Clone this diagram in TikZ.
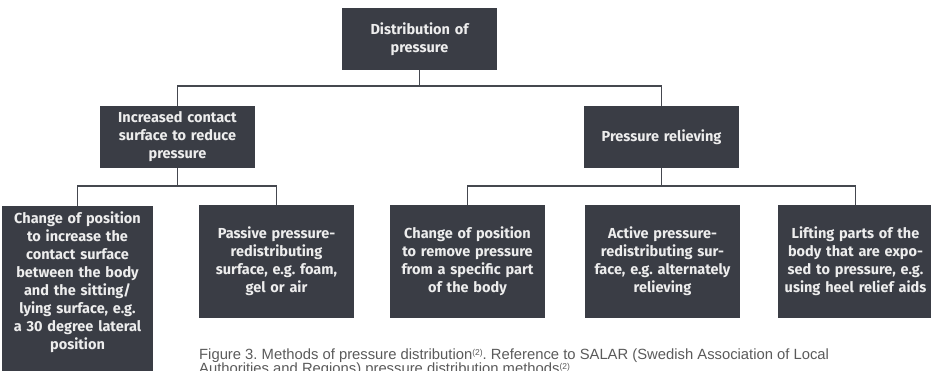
\documentclass[tikz,border=0pt]{standalone}
\usepackage{fontspec}
\setmainfont{Liberation Sans}
\newfontfamily\boxfont[WordSpace=0.4]{Fira Sans}
\definecolor{boxfill}{HTML}{3A3D45}
\definecolor{linec}{HTML}{45484F}
\definecolor{captc}{HTML}{5A5A5A}
\newcommand{\supref}[1]{\raisebox{4.5pt}{\fontsize{8.5}{8.5}\selectfont #1}}
\begin{document}
\frenchspacing
\begin{tikzpicture}[x=1pt,y=-1pt,
  box/.style={fill=boxfill, text=white!93!black,
    font=\boxfont\bfseries\fontsize{14.5}{18}\selectfont\frenchspacing,
    align=center, inner sep=0pt, minimum width=155pt, text width=155pt},
  conn/.style={draw=linec, line width=1.6pt},
  capt/.style={anchor=base west, inner sep=0pt, text=captc,
    font=\fontsize{14.8}{14}\selectfont}]
\useasboundingbox (0,0) rectangle (931,371);
\clip (0,0) rectangle (931,371);
% boxes
\node[box, minimum height=62pt] (top) at (419.5,39) {Distribution of\\pressure};
\node[box, minimum height=62pt] (ml) at (177.5,137) {Increased contact\\surface to reduce\\pressure};
\node[box, minimum height=62pt] (mr) at (661.5,137) {Pressure relieving};
\node[box, minimum height=152pt, minimum width=151pt, text width=151pt] (b1) at (77.5,282)
  {Change of position\\to increase the\\contact surface\\between the body\\and the sitting/\\lying surface, e.g.\\a 30 degree lateral\\position};
\fill[boxfill] (b1.south west) rectangle ([yshift=-20pt]b1.south east);
\node[box, minimum height=113pt] (b2) at (276.5,261.5) {Passive pressure-\\redistributing\\surface, e.g. foam,\\gel or air};
\node[box, minimum height=113pt] (b3) at (467.5,261.5) {Change of position\\to remove pressure\\from a specific part\\of the body};
\node[box, minimum height=113pt] (b4) at (662.5,261.5) {Active pressure-\\redistributing sur-\\face, e.g. alternately\\relieving};
\node[box, minimum height=113pt] (b5) at (855.5,261.5) {Lifting parts of the\\body that are expo-\\sed to pressure, e.g.\\using heel relief aids};
% connectors
\coordinate (h1) at (0,86);
\coordinate (h2) at (0,186);
\draw[conn] (top.south) -- (top.south |- h1);
\draw[conn] (ml.north) -- (ml.north |- h1) -- (mr.north |- h1) -- (mr.north);
\draw[conn] (ml.south) -- (ml.south |- h2);
\draw[conn] (b1.north) -- (b1.north |- h2) -- (b2.north |- h2) -- (b2.north);
\draw[conn] (mr.south) -- (mr.south |- h2);
\draw[conn] (b3.north) -- (b3.north |- h2) -- (b5.north |- h2) -- (b5.north);
% caption
\node[capt] (cap1) at (199,359.5) {Figure 3. Methods of pressure distribution\supref{(2)}. Reference to SALAR (Swedish Association of Local};
\node[capt] (cap2) at (199,373.5) {Authorities and Regions) pressure distribution methods\supref{(2)}.};
\end{tikzpicture}
\end{document}
